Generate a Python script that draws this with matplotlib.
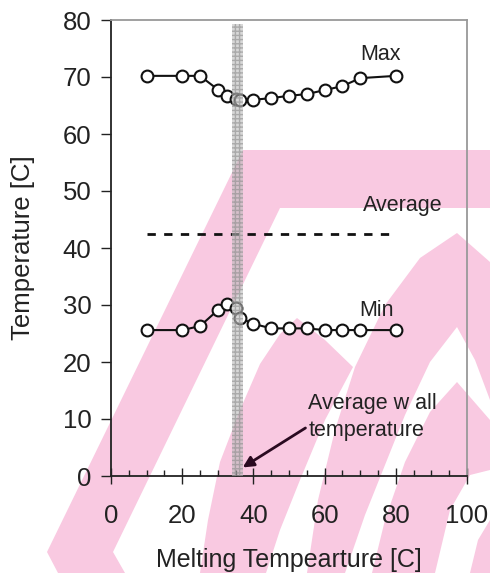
import matplotlib.pyplot as plt
from matplotlib.patches import Polygon

plt.rcParams['font.family'] = ['Liberation Sans', 'DejaVu Sans']

# data
melt_temp = [10, 20, 25, 30, 32.5, 35, 36.3, 40, 45, 50, 55, 60, 65, 70, 80]
t_max = [70.2, 70.2, 70.2, 67.8, 66.7, 66.1, 66.0, 66.0, 66.3, 66.7, 67.0, 67.7, 68.4, 69.8, 70.2]
t_min = [25.6, 25.6, 26.3, 29.1, 30.2, 29.5, 27.7, 26.7, 25.9, 25.9, 25.9, 25.6, 25.6, 25.6, 25.6]
avg_x = [10, 78]
avg_y = [42.4, 42.4]
wall_x = [34, 37]
wall_top = 79.3
x_ticks = [0, 20, 40, 60, 80, 100]
y_ticks = [0, 10, 20, 30, 40, 50, 60, 70, 80]

fig = plt.figure(figsize=(4.9, 5.73), dpi=100)

# pink watermark in the background (pixel coordinates of the image)
bg = fig.add_axes([0, 0, 1, 1], zorder=0)
bg.set_xlim(0, 490)
bg.set_ylim(573, 0)
bg.axis('off')
pink = '#f9c9e1'
shapes = [
    [(243, 150), (490, 150), (490, 208), (280, 208), (113, 552), (125, 573), (58, 573), (47, 552)],
    [(200, 573), (208, 520), (220, 462), (240, 410), (260, 364), (280, 334), (297, 318), (325, 340),
     (353, 367), (325, 420), (300, 480), (280, 530), (266, 573)],
    [(307, 573), (318, 500), (335, 430), (355, 367), (385, 305), (420, 258), (457, 233), (490, 262),
     (490, 400), (475, 360), (457, 327), (430, 362), (405, 415), (385, 465), (365, 515), (345, 573)],
    [(372, 573), (385, 520), (405, 462), (430, 412), (457, 382), (490, 420), (490, 470), (470, 475),
     (450, 510), (435, 573)],
    [(470, 573), (478, 540), (490, 520), (490, 573)],
]
for s in shapes:
    bg.add_patch(Polygon(s, closed=True, facecolor=pink, edgecolor='none'))

ax = fig.add_axes([111 / 490, 1 - 476 / 573, 356 / 490, 456 / 573], zorder=1)
ax.set_facecolor('none')

ax.plot(melt_temp, t_max, '-o', color='#111111', lw=1.5, ms=8.5, mfc='white', mew=1.5, zorder=3)
ax.plot(melt_temp, t_min, '-o', color='#111111', lw=1.5, ms=8.5, mfc='white', mew=1.5, zorder=3)
ax.plot(avg_x, avg_y, color='#111111', lw=2, dashes=(3, 3), zorder=3)

ax.fill_between(wall_x, 0, wall_top, facecolor=(0.72, 0.72, 0.72, 0.55),
                edgecolor=(0.55, 0.55, 0.55, 0.6), hatch='++++', lw=0, zorder=4)

ax.text(75.8, 73.9, 'Max', fontsize=15.5, ha='center', va='center', color='#222222')
ax.text(82, 47.5, 'Average', fontsize=15.5, ha='center', va='center', color='#222222')
ax.text(74.7, 29.1, 'Min', fontsize=15.5, ha='center', va='center', color='#222222')
ax.annotate('Average w all\ntemperature', xy=(37, 1.5), xytext=(55.4, 10.4),
            fontsize=15.5, ha='left', va='center', color='#222222', linespacing=1.35,
            arrowprops=dict(arrowstyle='-|>', color='#2a0a20', lw=2, mutation_scale=16,
                            shrinkA=0, shrinkB=0, relpos=(0, 0.3)))

ax.set_xlim(0, 100)
ax.set_ylim(0, 80)
ax.set_xticks(x_ticks)
ax.set_xticks(range(0, 101, 5), minor=True)
ax.set_yticks(y_ticks)
ax.tick_params(axis='x', which='major', direction='inout', length=11, width=1, labelsize=18.5, pad=15, colors='#222222')
ax.tick_params(axis='x', which='minor', direction='in', length=4, width=1, colors='#222222')
ax.tick_params(axis='y', which='major', direction='out', length=7, width=1, labelsize=18.5, pad=7, colors='#222222')

for side in ['left', 'bottom']:
    ax.spines[side].set_color('#222222')
    ax.spines[side].set_linewidth(1.3)
for side in ['top', 'right']:
    ax.spines[side].set_color('#999999')
    ax.spines[side].set_linewidth(1.3)

ax.set_xlabel('Melting Tempearture [C]', fontsize=18, color='#222222', labelpad=14)
ax.set_ylabel('Temperature [C]', fontsize=18.5, color='#222222', labelpad=20)

fig.savefig('out.png', dpi=100)
